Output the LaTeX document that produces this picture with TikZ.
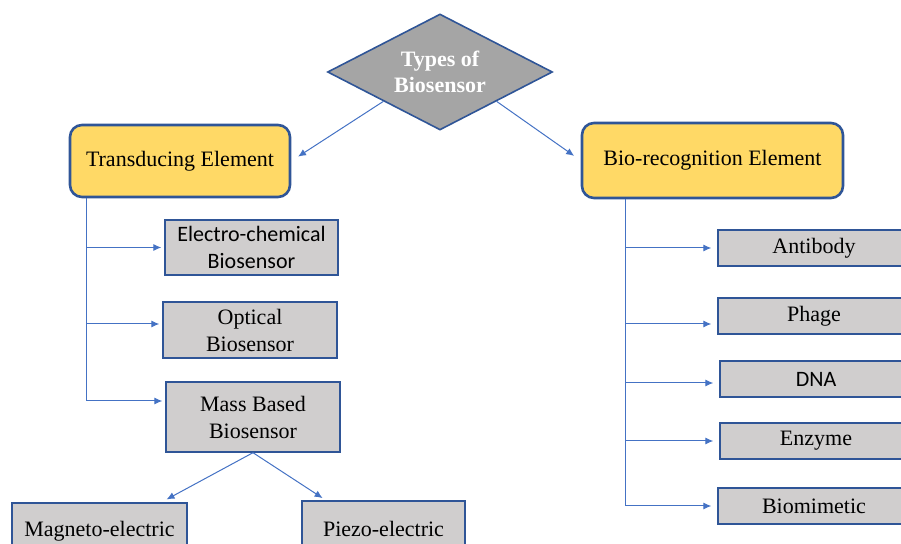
\documentclass[tikz,border=0pt]{standalone}
\usepackage{fontspec}
\setmainfont{Liberation Serif}
\setsansfont{Carlito}
\usetikzlibrary{shapes.geometric,arrows.meta,calc}
\definecolor{boxline}{HTML}{2F5597}
\definecolor{linkblue}{HTML}{4472C4}
\definecolor{elemfill}{HTML}{FFD966}
\definecolor{leaffill}{HTML}{D0CECE}
\definecolor{rootfill}{HTML}{A5A5A5}
\tikzset{%
  rootnode/.style = {shape=diamond, aspect=1.94, draw=boxline, fill=rootfill,%
                     line width=.8pt, inner sep=0pt, align=center,%
                     minimum width=112.5pt, minimum height=58pt,%
                     text=white, font=\fontsize{11}{13}\selectfont\bfseries},%
  elemnode/.style = {shape=rectangle, rounded corners=6pt,%
                     draw=boxline, line width=1.3pt, fill=elemfill},%
  leafnode/.style = {shape=rectangle, draw=boxline, line width=.7pt,%
                     fill=leaffill, align=center, inner sep=1pt},%
  sansleaf/.style = {leafnode, font=\fontsize{11}{13.5}\sffamily},%
  link/.style     = {draw=linkblue, line width=.5pt,%
                     -{Latex[length=4pt,width=3.5pt]}, shorten >=1.5pt}%
}

\begin{document}
\begin{tikzpicture}
              [x=0.5pt, y=-0.5pt, every node/.style={font=\fontsize{11}{13.5}\selectfont}]
              \clip (0,0) rectangle (901,544);
              % top of the tree
              \node[rootnode] (root) at (440,72) {Types of\\Biosensor};
              \node[elemnode, minimum width=110pt, minimum height=36pt] (trans) at (180,161) {Transducing Element};
              \node[elemnode, minimum width=130.5pt, minimum height=37.5pt] (bio) at (712.5,160.5) {Bio-recognition Element};
              \draw[link, shorten >=4pt] (root.south west) -- (trans.east);
              \draw[link, shorten >=4pt] (root.south east) -- (bio.west);
              % transducing side
              \node[sansleaf, minimum width=86.5pt, minimum height=27.5pt] (echem) at (251.5,247.5) {Electro-chemical\\Biosensor};
              \node[leafnode, minimum width=87pt, minimum height=28pt] (optic) at (250,330) {Optical\\Biosensor};
              \node[leafnode, minimum width=87pt, minimum height=35pt] (mass) at (253,417) {Mass Based\\Biosensor};
              \node[leafnode, minimum width=87.5pt, minimum height=28pt] (magneto) at (99.5,531) {Magneto-electric};
              \node[leafnode, minimum width=81.5pt, minimum height=28pt] (piezo) at (383.5,529) {Piezo-electric};
              \coordinate (ltop) at ([xshift=9pt]trans.south west);
              \foreach \leaf/\dy in {echem/0pt,optic/3pt,mass/8pt}
                \draw[link] (ltop) |- ([yshift=\dy]\leaf.west);
              \draw[link, shorten >=3pt] (mass.south) -- ($(magneto.north east)!0.3!(magneto.north)$);
              \draw[link, shorten >=2pt] (mass.south) -- ($(piezo.north west)!0.3!(piezo.north)$);
              % bio-recognition side
              \node[leafnode, minimum width=96pt, minimum height=18pt] (antibody) at (814,248) {Antibody};
              \node[leafnode, minimum width=96pt, minimum height=18pt] (phage) at (814,316) {Phage};
              \node[sansleaf, minimum width=96pt, minimum height=18pt] (dna) at (816,379) {DNA};
              \node[leafnode, minimum width=96pt, minimum height=18pt] (enzyme) at (816,441) {Enzyme};
              \node[leafnode, minimum width=96pt, minimum height=18pt] (biomim) at (814,506) {Biomimetic};
              \coordinate (rtop) at ([xshift=22.5pt]bio.south west);
              \foreach \leaf/\dy in {antibody/0pt,phage/-4pt,dna/-2pt,enzyme/0pt,biomim/0pt}
                \draw[link, shorten >=3pt] (rtop) |- ([yshift=\dy]\leaf.west);
        \end{tikzpicture}
\end{document}
